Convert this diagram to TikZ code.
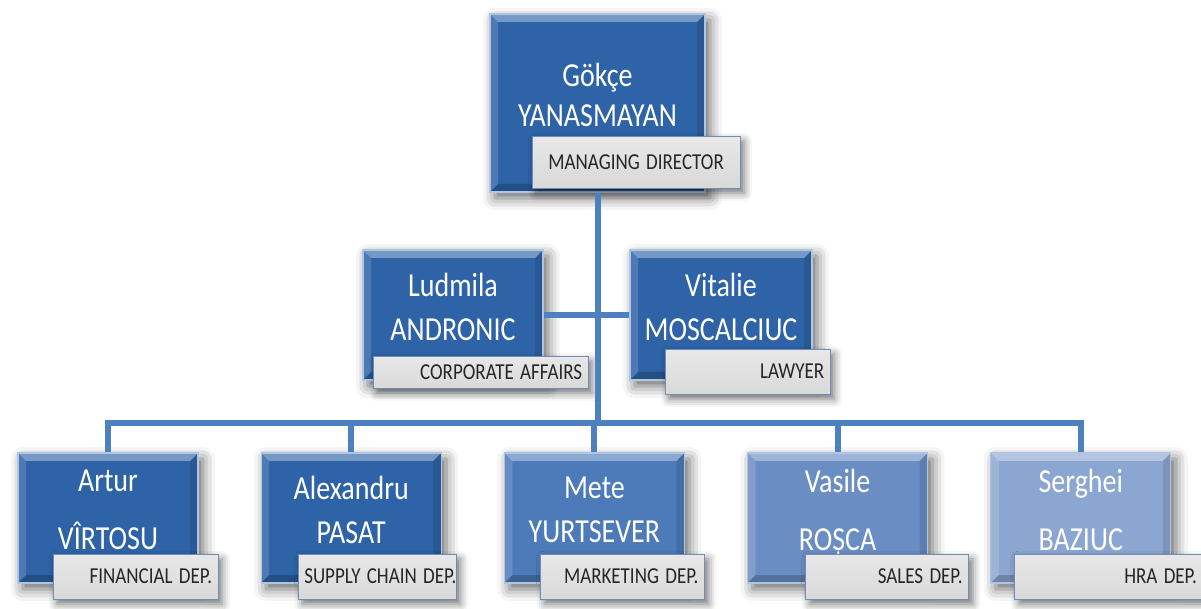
\documentclass[tikz,border=0pt]{standalone}
\usepackage{fontspec}
\setmainfont{Carlito}
\usepackage{graphicx}
\usepackage{tikz}
\usetikzlibrary{positioning, shadows.blur}

\definecolor{linkblue}{HTML}{4D80BF}
\definecolor{deepblue}{HTML}{2E63A7}
\definecolor{midblue}{HTML}{4D7BBA}
\definecolor{softblue}{HTML}{6A8DC4}
\definecolor{paleblue}{HTML}{8CA6D2}
\definecolor{tagline}{HTML}{6F8DB8}
\definecolor{tagtext}{HTML}{262626}

\newcommand{\tall}[1]{\scalebox{1}[1.2]{#1}}
\newcommand{\lift}{\rule[-8pt]{0pt}{8pt}}
\newcommand{\bevel}{%
  \coordinate (nw) at (path picture bounding box.north west);
  \coordinate (ne) at (path picture bounding box.north east);
  \coordinate (sw) at (path picture bounding box.south west);
  \coordinate (se) at (path picture bounding box.south east);
  \fill[white,opacity=.35] (nw) -- (ne) -- ([shift={(-4pt,-4pt)}]ne) -- ([shift={(4pt,-4pt)}]nw) -- cycle;
  \fill[white,opacity=.15] (nw) -- ([shift={(4pt,-4pt)}]nw) -- ([shift={(4pt,4pt)}]sw) -- (sw) -- cycle;
  \fill[black,opacity=.10] (ne) -- (se) -- ([shift={(-4pt,4pt)}]se) -- ([shift={(-4pt,-4pt)}]ne) -- cycle;
  \fill[black,opacity=.20] (sw) -- (se) -- ([shift={(-4pt,4pt)}]se) -- ([shift={(4pt,4pt)}]sw) -- cycle;}

\tikzset{person/.style={rectangle,draw=white!55!linkblue,line width=.6pt,fill=deepblue,text=white,align=center,
           minimum width=90pt,minimum height=65pt,inner sep=2pt,font=\fontsize{14pt}{20pt}\selectfont,
           path picture={\bevel},blur shadow={shadow xshift=2.5pt,shadow yshift=-3pt,shadow blur radius=6pt,shadow opacity=60}},
         role/.style={rectangle,draw=tagline,line width=.5pt,top color=gray!18,middle color=white,bottom color=gray!30,
           text=tagtext,align=right,text width=#1,minimum height=22.5pt,inner xsep=3pt,inner ysep=1pt,
           font=\fontsize{9.5pt}{11pt}\selectfont,
           blur shadow={shadow xshift=2pt,shadow yshift=-2.5pt,shadow blur radius=4pt,shadow opacity=55}},
         link/.style={draw=linkblue,line width=3pt,line join=miter}}

\begin{document}
\begin{tikzpicture}[x=0.5pt,y=-0.5pt]
  \useasboundingbox (0,0) rectangle (1201,609);
  % managing director
  \node (gokce) [person, minimum width=107.5pt, minimum height=89pt] at (597.5,103) {\tall{Gökçe}\\\tall{YANASMAYAN}\lift};
  \node (gokcerole) [role=98pt, align=center, minimum height=26pt, anchor=north east] at ([xshift=17.5pt,yshift=28.5pt]gokce.south east) {\tall{MANAGING DIRECTOR}};
  % staff
  \node (ludmila) [person] at (453,315) {\tall{Ludmila}\\[2pt]\tall{ANDRONIC}\lift};
  \node (ludmilarole) [role=101.5pt, minimum height=16pt, anchor=north east] at ([xshift=22.5pt,yshift=12.5pt]ludmila.south east) {\tall{CORPORATE AFFAIRS}};
  \node (vitalie) [person, minimum width=91pt] at (721,315) {\tall{Vitalie}\\[2pt]\tall{MOSCALCIUC}\lift};
  \node (vitalierole) [role=76.5pt, anchor=north east] at ([xshift=9pt,yshift=16pt]vitalie.south east) {\tall{LAWYER}};
  % departments
  \node (artur) [person] at (108,518) {\tall{Artur}\\[9pt]\tall{VÎRTOSU}\lift};
  \node (alexandru) [person, right=31pt of artur] {\tall{Alexandru}\\[2pt]\tall{PASAT}\lift};
  \node (mete) [person, fill=midblue, right=31pt of alexandru] {\tall{Mete}\\[2pt]\tall{YURTSEVER}\lift};
  \node (vasile) [person, fill=softblue, right=31pt of mete] {\tall{Vasile}\\[9pt]\tall{ROȘCA}\lift};
  \node (serghei) [person, fill=paleblue, right=31pt of vasile] {\tall{Serghei}\\[9pt]\tall{BAZIUC}\lift};
  \node (arturrole) [role=76.5pt, anchor=north east] at ([xshift=10pt,yshift=15pt]artur.south east) {\tall{FINANCIAL DEP.}};
  \node (alexandrurole) [role=73pt, anchor=north east] at ([xshift=7.5pt,yshift=15pt]alexandru.south east) {\tall{SUPPLY CHAIN DEP.}};
  \node (meterole) [role=76pt, anchor=north east] at ([xshift=10pt,yshift=15pt]mete.south east) {\tall{MARKETING DEP.}};
  \node (vasilerole) [role=75.5pt, anchor=north east] at ([xshift=20.5pt,yshift=15pt]vasile.south east) {\tall{SALES DEP.}};
  \node (sergheirole) [role=88pt, anchor=north east] at ([xshift=16pt,yshift=15pt]serghei.south east) {\tall{HRA DEP.}};
  % connectors
  \coordinate (bus) at (597.5,423);
  \draw[link] (gokce.south) -- (bus);
  \draw[link] (ludmila) -- (vitalie);
  \draw[link] (bus) -| (artur.north);
  \draw[link] (bus) -| (alexandru.north);
  \draw[link] (bus) -| (mete.north);
  \draw[link] (bus) -| (vasile.north);
  \draw[link] (bus) -| (serghei.north);
\end{tikzpicture}
\end{document}
